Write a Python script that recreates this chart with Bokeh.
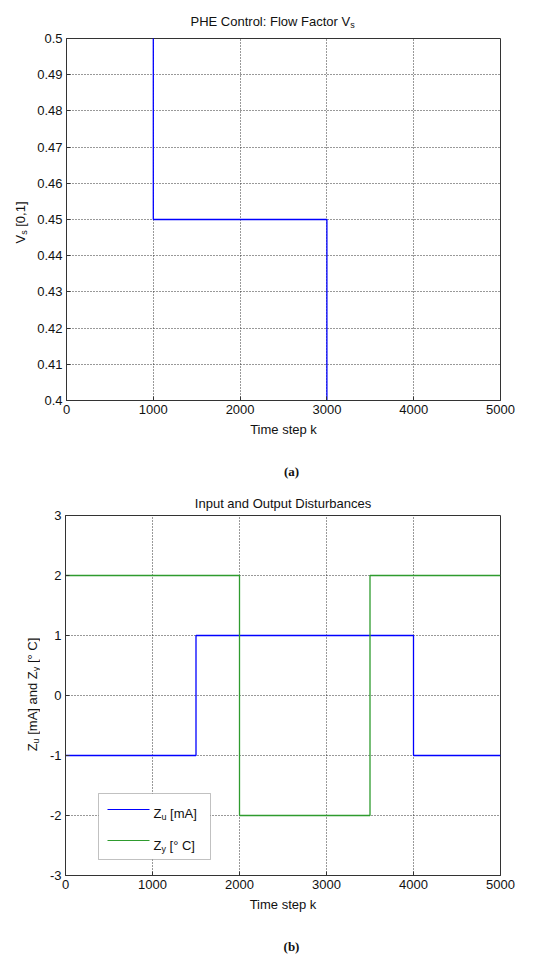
import math
from bokeh.plotting import figure
from bokeh.models import Range1d, FixedTicker, Label, BoxAnnotation
from bokeh.layouts import column, row
from bokeh.embed import file_html
from bokeh.resources import INLINE

# ---------------- data ----------------
k_vs = [0, 1000, 3000, 5000]
vs = [0.55, 0.45, 0.35, 0.35]

k_zu = [0, 1500, 4000, 5000]
zu = [-1, 1, -1, -1]

k_zy = [0, 2000, 3500, 5000]
zy = [2, -2, 2, 2]

x_ticks = [0, 1000, 2000, 3000, 4000, 5000]
x_tick_labels = ["0", "1000", "2000", "3000", "4000", "5000"]
y1_ticks = [0.4, 0.41, 0.42, 0.43, 0.44, 0.45, 0.46, 0.47, 0.48, 0.49, 0.5]
y1_tick_labels = ["0.4", "0.41", "0.42", "0.43", "0.44", "0.45", "0.46", "0.47", "0.48", "0.49", "0.5"]
y2_ticks = [-3, -2, -1, 0, 1, 2, 3]
y2_tick_labels = ["-3", "-2", "-1", "0", "1", "2", "3"]

title1_main = "PHE Control: Flow Factor V"
title1_sub = "s"
title2 = "Input and Output Disturbances"
xlabel = "Time step k"
caption1 = "(a)"
caption2 = "(b)"

FONT = "Liberation Sans"
SERIF = "Liberation Serif"
TXT = "#111111"
AX = "#333333"
BLUE = "#0000ff"
GREEN = "#2e9b2e"

# Arial/Liberation Sans advance widths (per 1000 em)
W = {' ': 278, '(': 333, ')': 333, ',': 278, '.': 278, ':': 278, '[': 278, ']': 278, '°': 400,
     'A': 667, 'C': 722, 'D': 722, 'E': 667, 'F': 611, 'H': 722, 'I': 278, 'O': 778, 'P': 667,
     'V': 667, 'Z': 611,
     'a': 556, 'b': 556, 'c': 500, 'd': 556, 'e': 556, 'i': 222, 'k': 500, 'l': 222, 'm': 833,
     'n': 556, 'o': 556, 'p': 556, 'r': 333, 's': 500, 't': 278, 'u': 556, 'w': 722, 'y': 500}
for ch in "0123456789":
    W[ch] = 556


def tw(t, size):
    return sum(W.get(c, 556) for c in t) * size / 1000.0


def rich(p, pieces, x, y, rotate=False, align="left", color=TXT):
    total = sum(tw(t, s) for t, s, _ in pieces)
    pos = -total / 2.0 if align == "center" else 0.0
    for t, s, sh in pieces:
        lead = len(t) - len(t.lstrip(" "))
        pos += tw(" " * lead, s)
        core = t.strip(" ")
        if rotate:
            lx, ly, ang = x + sh, y + pos, math.pi / 2
        else:
            lx, ly, ang = x + pos, y - sh, 0.0
        p.add_layout(Label(x=lx, y=ly, x_units="screen", y_units="screen", text=core, angle=ang,
                           text_font=FONT, text_font_size=f"{s}px", text_align="left",
                           text_baseline="alphabetic", text_color=color))
        pos += tw(core, s)
        trail = len(t) - len(t.rstrip(" "))
        pos += tw(" " * trail, s)


def strip(w, h, top=0, bottom=0):
    s = figure(width=w, height=h, output_backend="svg", toolbar_location=None,
               x_axis_type=None, y_axis_type=None, min_border=0, title_location=None,
               min_border_top=top, min_border_bottom=bottom,
               x_range=Range1d(0, 1), y_range=Range1d(0, 1))
    s.outline_line_color = None
    s.background_fill_color = "white"
    s.border_fill_color = "white"
    return s


def style(p, yticks, ylabels):
    p.xaxis.ticker = FixedTicker(ticks=x_ticks)
    p.xaxis.major_label_overrides = dict(zip(x_ticks, x_tick_labels))
    p.yaxis.ticker = FixedTicker(ticks=yticks)
    p.yaxis.major_label_overrides = dict(zip(yticks, ylabels))
    for ax in (p.xaxis, p.yaxis):
        ax.major_tick_in = 4
        ax.major_tick_out = 0
        ax.minor_tick_line_color = None
        ax.axis_line_color = AX
        ax.major_tick_line_color = AX
        ax.major_label_text_font = FONT
        ax.major_label_text_font_size = "13px"
        ax.major_label_text_color = TXT
        ax.major_label_standoff = 4
    p.xaxis.axis_label = xlabel
    p.xaxis.axis_label_text_font = FONT
    p.xaxis.axis_label_text_font_size = "13px"
    p.xaxis.axis_label_text_font_style = "normal"
    p.xaxis.axis_label_text_color = TXT
    p.xaxis.axis_label_standoff = 5
    p.xgrid.grid_line_color = "#333333"
    p.ygrid.grid_line_color = "#333333"
    p.xgrid.grid_line_dash = "1 2"
    p.ygrid.grid_line_dash = "1 2"
    p.outline_line_color = AX
    p.outline_line_width = 1
    p.background_fill_color = "white"
    p.border_fill_color = "white"


def caption(s, text, x, y):
    s.add_layout(Label(x=x, y=y, x_units="screen", y_units="screen", text=text,
                       text_font=SERIF, text_font_style="bold", text_font_size="13px",
                       text_align="center", text_baseline="alphabetic", text_color=TXT))


# ---------------- panel (a) ----------------
t1 = strip(550, 31)
rich(t1, [(title1_main, 13, 0), (title1_sub, 9, 3)], 190, 10)

yl1 = strip(34, 419, top=7, bottom=50)
rich(yl1, [("V", 13, 0), ("s", 9, 3), (" [0,1]", 13, 0)], 20, 178, rotate=True, align="center")

p1 = figure(width=516, height=419, output_backend="svg", toolbar_location=None, title_location=None,
            min_border_left=31, min_border_right=50, min_border_top=7, min_border_bottom=50,
            x_range=Range1d(0, 5000), y_range=Range1d(0.4, 0.5))
style(p1, y1_ticks, y1_tick_labels)
p1.step(k_vs, vs, mode="after", line_color=BLUE, line_width=1.3)

# ---------------- caption (a) ----------------
mid = strip(550, 32)
caption(mid, caption1, 291, 11)

# ---------------- panel (b) ----------------
yl2 = strip(40, 443, top=33, bottom=50)
rich(yl2, [("Z", 13, 0), ("u", 9, 3), (" [mA] and Z", 13, 0), ("y", 9, 3), (" [° C]", 13, 0)],
     32, 181, rotate=True, align="center")

p2 = figure(width=510, height=443, output_backend="svg", toolbar_location=None,
            title=title2, title_location="above",
            min_border_left=25, min_border_right=50, min_border_top=33, min_border_bottom=50,
            x_range=Range1d(0, 5000), y_range=Range1d(-3, 3))
p2.title.align = "center"
p2.title.text_font = FONT
p2.title.text_font_size = "13px"
p2.title.text_font_style = "normal"
p2.title.text_color = TXT
p2.title.standoff = 10
style(p2, y2_ticks, y2_tick_labels)
p2.step(k_zu, zu, mode="after", line_color=BLUE, line_width=1.3)
p2.step(k_zy, zy, mode="after", line_color=GREEN, line_width=1.3)

# legend (manual, screen units inside the frame)
p2.add_layout(BoxAnnotation(left=33, right=145, bottom=16, top=82,
                            left_units="screen", right_units="screen",
                            bottom_units="screen", top_units="screen",
                            fill_color="white", fill_alpha=1.0, line_color=AX, line_width=1))
p2.add_layout(BoxAnnotation(left=42, right=84, bottom=65.4, top=66.6,
                            left_units="screen", right_units="screen",
                            bottom_units="screen", top_units="screen",
                            fill_color=BLUE, fill_alpha=1.0, line_color=None))
p2.add_layout(BoxAnnotation(left=42, right=84, bottom=34.4, top=35.6,
                            left_units="screen", right_units="screen",
                            bottom_units="screen", top_units="screen",
                            fill_color=GREEN, fill_alpha=1.0, line_color=None))
rich(p2, [("Z", 13, 0), ("u", 9, 3), (" [mA]", 13, 0)], 88, 62)
rich(p2, [("Z", 13, 0), ("y", 9, 3), (" [° C]", 13, 0)], 88, 30)

c2 = strip(550, 32)
caption(c2, caption2, 291, 11)

layout = column(t1, row(yl1, p1), mid, row(yl2, p2), c2)
open("out.html", "w").write(file_html(layout, INLINE))
